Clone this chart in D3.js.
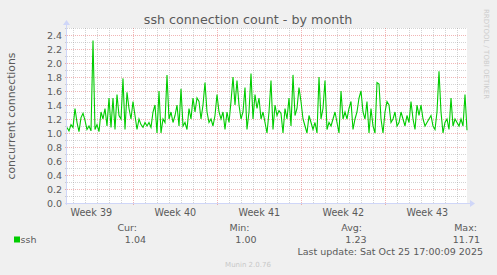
<!DOCTYPE html>
<html><head><meta charset="utf-8">
<script src="https://cdn.jsdelivr.net/npm/d3@7"></script>
<style>
html,body{margin:0;padding:0;background:#F0F0F0;}
svg{display:block;}
text{font-family:"DejaVu Sans",sans-serif;}
</style></head>
<body>
<svg id="chart" width="497" height="275"></svg>
<script>
// ---- data ----
const title = "ssh connection count - by month";
const yLabel = "concurrent connections";
const seriesName = "ssh";
const startTime = Date.UTC(2025, 8, 23, 11, 20); // first sample
const stepHours = 4;
const sshValues = [
  1.08,1.03,1.12,1.08,1.35,1.15,1.02,1.22,1.28,1.18,
  1.05,1.10,1.03,2.32,1.05,1.12,1.02,1.30,1.20,1.35,
  1.10,1.50,1.08,1.50,1.05,1.55,1.25,1.20,1.78,1.05,
  1.58,1.35,1.20,1.45,1.25,1.05,1.20,1.12,1.08,1.15,
  1.10,1.15,1.08,1.30,1.40,1.00,1.60,1.00,1.20,1.15,
  1.83,1.20,1.30,1.15,1.25,1.40,1.10,1.63,1.10,1.15,
  1.05,1.35,1.20,1.50,1.30,1.50,1.45,1.20,1.40,1.72,
  1.30,1.15,1.20,1.10,1.25,1.55,1.30,1.20,1.30,1.05,
  1.30,1.15,1.45,1.80,1.40,1.75,1.40,1.20,1.30,1.65,
  1.05,1.30,1.85,1.20,1.55,1.35,1.50,1.20,1.30,1.15,
  1.00,1.30,1.75,1.05,1.40,1.25,1.32,1.28,1.00,1.35,
  1.20,1.50,1.10,1.83,1.25,1.35,1.65,1.45,1.20,1.10,
  1.00,1.25,1.15,1.05,1.15,1.00,1.80,1.20,1.35,1.75,
  1.05,1.15,1.10,1.20,1.30,1.15,1.00,1.60,1.20,1.30,
  1.20,1.35,1.45,1.05,1.20,1.30,1.50,1.60,1.30,1.20,
  1.45,1.00,1.35,1.10,1.00,1.72,1.70,1.20,1.00,1.30,
  1.45,1.40,1.15,1.20,1.30,1.10,1.15,1.30,1.20,1.10,
  1.25,1.15,1.45,1.20,1.05,1.40,1.25,1.40,1.20,1.10,
  1.15,1.20,1.25,1.10,1.05,1.30,1.88,1.30,1.00,1.15,
  1.20,1.05,1.50,1.10,1.20,1.15,1.10,1.20,1.10,1.55,
  1.04
];
const yTicks = [0,0.2,0.4,0.6,0.8,1.0,1.2,1.4,1.6,1.8,2.0,2.2,2.4];
const yMinorTicks = [0.1,0.3,0.5,0.7,0.9,1.1,1.3,1.5,1.7,1.9,2.1,2.3,2.5];
const legendHeads = ["Cur:", "Min:", "Avg:", "Max:"];
const legendValues = ["1.04", "1.00", "1.23", "11.71"];
const lastUpdate = "Last update: Sat Oct 25 17:00:09 2025";
const footer = "Munin 2.0.76";
const sideText = "RRDTOOL / TOBI OETIKER";

// ---- layout ----
const L = 67, R = 467, T = 28, B = 203;
const svg = d3.select("#chart");
const textCol = "#5a5a5a";
const axisCol = "#CFD6F8";
const lineCol = "#00CC00";
const minorCol = "rgba(143,143,143,0.38)";
const majorCol = "rgba(222,79,79,0.42)";

const data = sshValues.map((v, i) => ({t: new Date(startTime + i * stepHours * 3600e3), v}));
const x = d3.scaleUtc().domain([new Date(startTime), new Date(startTime + (sshValues.length - 1) * stepHours * 3600e3)]).range([L, R]);
const y = d3.scaleLinear().domain([0, 2.5]).range([B, T]);

svg.append("rect").attr("x", L).attr("y", T).attr("width", R - L).attr("height", B - T).attr("fill", "#fff");

const g = svg.append("g").attr("shape-rendering", "crispEdges");
// minor vertical grid (days)
const days = d3.utcDay.range(x.domain()[0], x.domain()[1]);
g.selectAll(".vmin").data(days.filter(d => d.getUTCDay() !== 1)).join("line")
  .attr("x1", d => Math.round(x(d)) + 0.5).attr("x2", d => Math.round(x(d)) + 0.5)
  .attr("y1", T).attr("y2", B)
  .attr("stroke", minorCol).attr("stroke-dasharray", "1,1");
// minor horizontal
g.selectAll(".hmin").data(yMinorTicks).join("line")
  .attr("x1", L - 2).attr("x2", R)
  .attr("y1", d => Math.round(y(d)) + 0.5).attr("y2", d => Math.round(y(d)) + 0.5)
  .attr("stroke", minorCol).attr("stroke-dasharray", "1,1");
// major horizontal
g.selectAll(".hmaj").data(yTicks).join("line")
  .attr("x1", L - 2).attr("x2", R)
  .attr("y1", d => Math.round(y(d)) + 0.5).attr("y2", d => Math.round(y(d)) + 0.5)
  .attr("stroke", majorCol).attr("stroke-dasharray", "1,1");
// major vertical (weeks)
const weeks = d3.utcMonday.range(x.domain()[0], x.domain()[1]);
g.selectAll(".vmaj").data(weeks).join("line")
  .attr("x1", d => Math.round(x(d)) + 0.5).attr("x2", d => Math.round(x(d)) + 0.5)
  .attr("y1", T).attr("y2", B + 2)
  .attr("stroke", majorCol).attr("stroke-dasharray", "1,1");

// y tick labels
svg.selectAll(".ylab").data(yTicks).join("text")
  .attr("x", L - 5).attr("y", d => y(d) + 3.5)
  .attr("text-anchor", "end").attr("font-size", "9.5px").attr("fill", textCol)
  .text(d => d.toFixed(1));
// x week labels
const fmtWeek = d3.utcFormat("Week %V");
const weekStarts = d3.utcMonday.range(d3.utcMonday.floor(x.domain()[0]), x.domain()[1]);
svg.selectAll(".xlab").data(weekStarts).join("text")
  .attr("x", d => x(new Date(+d + 3.5 * 864e5))).attr("y", B + 13)
  .attr("text-anchor", "middle").attr("font-size", "9.6px").attr("fill", textCol)
  .text(d => fmtWeek(d));

// data line
const line = d3.line().x(d => x(d.t)).y(d => y(d.v));
svg.append("path").datum(data).attr("d", line)
  .attr("fill", "none").attr("stroke", lineCol).attr("stroke-width", 1.1).attr("stroke-linejoin", "miter");

// axes
const ax = svg.append("g").attr("shape-rendering", "crispEdges");
ax.append("line").attr("x1", L - 2.5).attr("x2", R + 4).attr("y1", B + 0.5).attr("y2", B + 0.5).attr("stroke", axisCol);
ax.append("line").attr("x1", L - 0.5).attr("x2", L - 0.5).attr("y1", B + 2).attr("y2", T - 4).attr("stroke", axisCol);
svg.append("path").attr("d", `M${R + 3},${B - 3} L${R + 8},${B + 0.5} L${R + 3},${B + 4} Z`).attr("fill", axisCol);
svg.append("path").attr("d", `M${L - 4},${T - 3} L${L - 0.5},${T - 8} L${L + 3},${T - 3} Z`).attr("fill", axisCol);

// title
svg.append("text").attr("x", 248).attr("y", 24).attr("text-anchor", "middle")
  .attr("font-size", "12.7px").attr("fill", textCol).text(title);
// y axis label
svg.append("text").attr("transform", "translate(15,116) rotate(-90)").attr("text-anchor", "middle")
  .attr("font-size", "10.8px").attr("fill", textCol).text(yLabel);
// side text
svg.append("text").attr("transform", "translate(484,9) rotate(90)").attr("text-anchor", "start")
  .attr("font-size", "7px").attr("fill", "#ccc").text(sideText);

// legend
const headX = [137, 249.5, 362, 477];
const valX = [146, 256.5, 366.5, 480];
svg.selectAll(".lh").data(legendHeads).join("text")
  .attr("x", (d, i) => headX[i]).attr("y", 231).attr("text-anchor", "end")
  .attr("font-size", "9.5px").attr("fill", textCol).text(d => d);
svg.selectAll(".lv").data(legendValues).join("text")
  .attr("x", (d, i) => valX[i]).attr("y", 243).attr("text-anchor", "end")
  .attr("font-size", "9.5px").attr("fill", textCol).text(d => d);
svg.append("rect").attr("x", 14).attr("y", 236.5).attr("width", 6).attr("height", 6).attr("fill", lineCol);
svg.append("text").attr("x", 20.5).attr("y", 243).attr("font-size", "9.5px").attr("fill", textCol).text(seriesName);
svg.append("text").attr("x", 483).attr("y", 255).attr("text-anchor", "end")
  .attr("font-size", "9.5px").attr("fill", textCol).text(lastUpdate);
svg.append("text").attr("x", 248).attr("y", 267).attr("text-anchor", "middle")
  .attr("font-size", "7px").attr("fill", "#c8c8c8").text(footer);
</script>
</body></html>
